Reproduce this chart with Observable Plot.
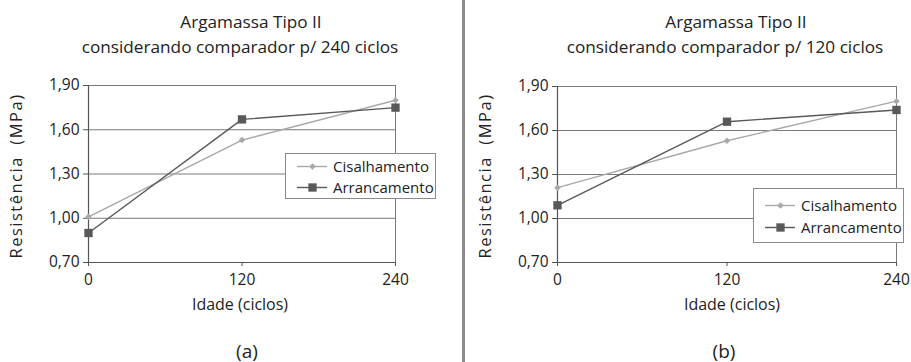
<!DOCTYPE html>
<html><head><meta charset="utf-8">
<script src="https://cdn.jsdelivr.net/npm/d3@7"></script>
<script src="https://cdn.jsdelivr.net/npm/@observablehq/plot@0.6"></script>
<style>
body{margin:0;background:#fff;font-family:"Open Sans",sans-serif;color:#222}
#wrap{position:relative;width:911px;height:362px;overflow:hidden;background:#fff}
.abs{position:absolute;white-space:nowrap;line-height:1;}
.c{transform:translate(-50%,-50%)}
.ttl{font-size:17.2px}
.ylab{white-space:pre;font-size:16.5px;letter-spacing:1.5px;transform:translate(-50%,-50%) rotate(-90deg)}
.xlab{font-size:16px}
.cap{font-size:19px}
.legend{position:absolute;background:#fff;border:1px solid #8a8a8a;box-sizing:border-box;font-size:15px;color:#222}
.legend .row{position:absolute;left:0;display:flex;align-items:center;transform:translateY(-50%)}
.legend svg{display:block}
#sep{position:absolute;left:462px;top:0;width:2.5px;height:362px;background:#8c8c8c}
</style></head>
<body><div id="wrap"></div>
<script>
// ---- data ----
const ages = [0, 120, 240];
const seriesNames = ["Cisalhamento", "Arrancamento"];
const cisalhamentoA = [1.01, 1.53, 1.80];
const arrancamentoA = [0.90, 1.67, 1.75];
const cisalhamentoB = [1.21, 1.53, 1.80];
const arrancamentoB = [1.09, 1.66, 1.74];
const yTicks = [0.70, 1.00, 1.30, 1.60, 1.90];
const xTicks = [0, 120, 240];
const titleLine1 = "Argamassa Tipo II";
const titleLine2A = "considerando comparador p/ 240 ciclos";
const titleLine2B = "considerando comparador p/ 120 ciclos";
const yLabel = "Resistência  (MPa)";
const xLabel = "Idade (ciclos)";
const captions = ["(a)", "(b)"];

const colCis = "#a8a8a8", colArr = "#595959";
const fmt = d => d.toFixed(2).replace(".", ",");
const toRows = vals => ages.map((a, i) => ({age: a, v: vals[i]}));

function chart(cis, arr, width, mTop, mRight) {
  return Plot.plot({
    width, height: 362,
    marginLeft: 88, marginRight: mRight, marginTop: mTop, marginBottom: 100,
    x: {domain: [0, 240]},
    y: {domain: [0.70, 1.90]},
    style: {fontFamily: "'Open Sans', sans-serif", fontSize: "15.5px", color: "#222", background: "transparent", overflow: "visible"},
    marks: [
      Plot.gridY(yTicks, {stroke: "#7a7a7a", strokeOpacity: 1, strokeWidth: 1}),
      Plot.ruleX([240], {stroke: "#7a7a7a", strokeWidth: 1}),
      Plot.ruleX([0], {stroke: "#555", strokeWidth: 1.2}),
      Plot.ruleY([0.70], {stroke: "#555", strokeWidth: 1.2}),
      Plot.axisY(yTicks, {tickFormat: fmt, tickSize: 5, tickPadding: 4, label: null, stroke: "#555", fontSize: 15.5}),
      Plot.axisX(xTicks, {tickSize: 4, tickPadding: 7, label: null, stroke: "#555", fontSize: 15.5}),
      Plot.line(toRows(cis), {x: "age", y: "v", stroke: colCis, strokeWidth: 1.4}),
      Plot.dot(toRows(cis), {x: "age", y: "v", symbol: "diamond2", r: 2.9, fill: colCis, stroke: "none"}),
      Plot.line(toRows(arr), {x: "age", y: "v", stroke: colArr, strokeWidth: 1.4}),
      Plot.dot(toRows(arr), {x: "age", y: "v", symbol: "square", r: 4.7, fill: colArr, stroke: "none"})
    ]
  });
}

function swatch(color, symbol, r) {
  return Plot.plot({
    width: 30, height: 14, margin: 0,
    x: {domain: [0, 1], axis: null}, y: {domain: [0, 1], axis: null},
    style: {background: "transparent", overflow: "visible"},
    marks: [
      Plot.ruleY([0.5], {stroke: color, strokeWidth: 1.4}),
      Plot.dot([{x: 0.5, y: 0.5}], {x: "x", y: "y", symbol, r, fill: color, stroke: "none"})
    ]
  });
}

const wrap = document.getElementById("wrap");
function add(html, cls, left, top) {
  const d = document.createElement("div");
  d.className = "abs " + cls;
  d.style.left = left + "px"; d.style.top = top + "px";
  d.textContent = html;
  wrap.appendChild(d);
  return d;
}
function panel(left, svg) {
  const p = document.createElement("div");
  p.className = "panel"; p.style.position = "absolute"; p.style.left = left + "px"; p.style.top = "0px";
  p.appendChild(svg); wrap.appendChild(p);
}
function legend(left, top, w, h, rowYs, swX, txtGap) {
  const L = document.createElement("div");
  L.className = "legend";
  Object.assign(L.style, {left: left + "px", top: top + "px", width: w + "px", height: h + "px"});
  const specs = [[colCis, "diamond2", 2.9], [colArr, "square", 4.7]];
  seriesNames.forEach((name, i) => {
    const row = document.createElement("div");
    row.className = "row";
    row.style.top = rowYs[i] + "px"; row.style.left = swX + "px";
    row.appendChild(swatch(...specs[i]));
    const t = document.createElement("span");
    t.textContent = name; t.style.marginLeft = txtGap + "px";
    row.appendChild(t);
    L.appendChild(row);
  });
  wrap.appendChild(L);
}

// panel (a)
panel(0, chart(cisalhamentoA, arrancamentoA, 455, 85, 60));
// panel (b)
panel(469, chart(cisalhamentoB, arrancamentoB, 442, 86, 15));

const sep = document.createElement("div"); sep.id = "sep"; wrap.appendChild(sep);

add(titleLine1, "c ttl", 251, 22);
add(titleLine2A, "c ttl", 240, 47);
add(titleLine1, "c ttl", 736, 22);
add(titleLine2B, "c ttl", 725, 47);
add(yLabel, "ylab", 16, 176);
add(yLabel, "ylab", 485, 176);
add(xLabel, "c xlab", 240, 304);
add(xLabel, "c xlab", 732, 304);
add(captions[0], "c cap", 247, 351);
add(captions[1], "c cap", 724, 351);

legend(285, 153, 151, 46, [12, 32.5], 11, 6);
legend(753, 188, 151, 55, [16, 38], 11, 6);
</script>
</body></html>
